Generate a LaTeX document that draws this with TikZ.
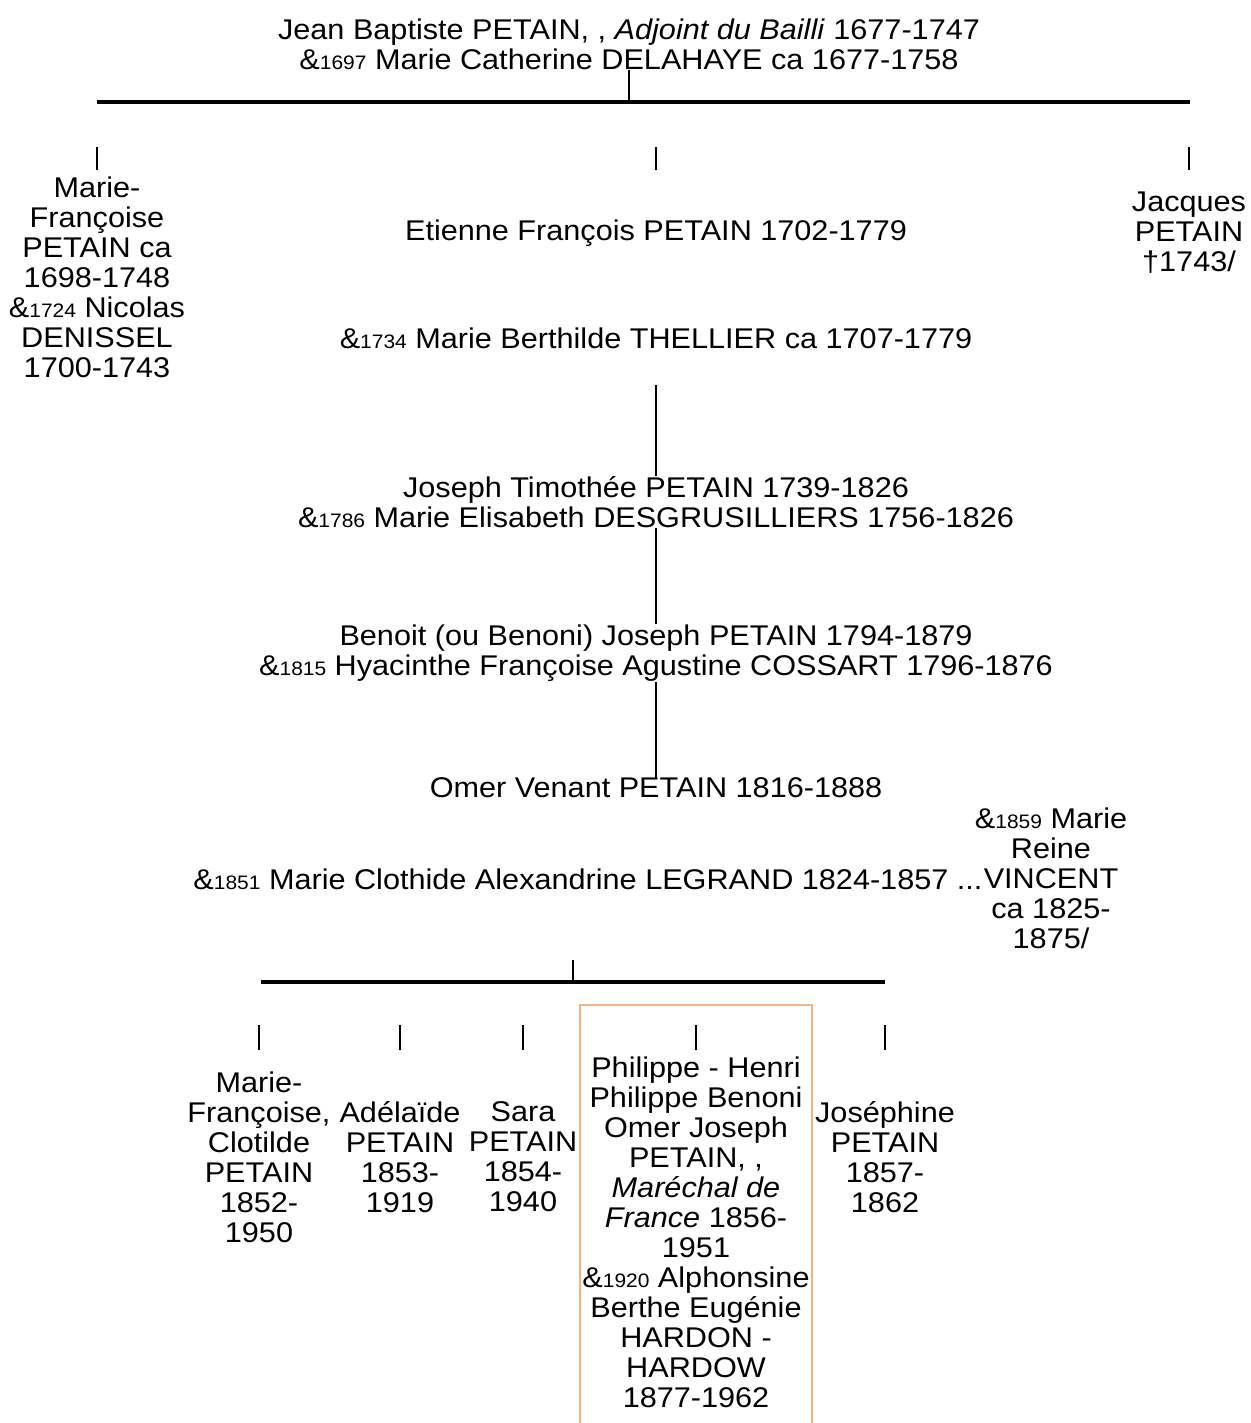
\documentclass[tikz,border=0pt]{standalone}
\usepackage{fontspec}
\setmainfont[FakeStretch=1.075]{Liberation Sans}
\newcommand{\yr}[1]{{\fontsize{19.5}{19.5}\selectfont #1}}
\definecolor{hlorange}{RGB}{248,178,128}

\begin{document}
\begin{tikzpicture}
  [x=1pt,y=-1pt,
   person/.style={align=center,inner sep=0pt,font=\fontsize{28.5}{30}\selectfont},
   bar/.style={line width=4pt},
   tick/.style={line width=2pt},
   link/.style={line width=1.5pt},
   framed/.style={draw=hlorange,line width=2pt}]
  \useasboundingbox (0,0) rectangle (1250,1423);

  \node (jb) at (629,44) [person] {Jean Baptiste PETAIN, , \textit{Adjoint du Bailli} 1677-1747\\\&\yr{1697} Marie Catherine DELAHAYE ca 1677-1758};
  \coordinate (b1l) at (97,102);
  \coordinate (b1r) at (1190,102);

  \node (mf) at (97,277) [person] {Marie-\\Françoise\\PETAIN ca\\1698-1748\\\&\yr{1724} Nicolas\\DENISSEL\\1700-1743};
  \node (ef) at (656,233) [person] {Etienne François PETAIN 1702-1779};
  \node (jq) at (1189,233) [person] {Jacques\\PETAIN\\†1743/};
  \node (efm) at (656,338) [person] {\&\yr{1734} Marie Berthilde THELLIER ca 1707-1779};

  \node (jt) at (656,502) [person] {Joseph Timothée PETAIN 1739-1826\\\&\yr{1786} Marie Elisabeth DESGRUSILLIERS 1756-1826};
  \node (bj) at (656,653) [person] {Benoit (ou Benoni) Joseph PETAIN 1794-1879\\\&\yr{1815} Hyacinthe Françoise Agustine COSSART 1796-1876};
  \node (ov) at (656,788) [person] {Omer Venant PETAIN 1816-1888};
  \node (ovm) at (588,879) [person] {\&\yr{1851} Marie Clothide Alexandrine LEGRAND 1824-1857 ...};
  \node (ovm2) at (1051,878) [person] {\&\yr{1859} Marie\\Reine\\VINCENT\\ca 1825-\\1875/};
  \coordinate (b2t) at (573,960);
  \coordinate (b2l) at (261,982);
  \coordinate (b2r) at (885,982);

  \node (c1) at (259,1157) [person] {Marie-\\Françoise,\\Clotilde\\PETAIN\\1852-\\1950};
  \node (c2) at (400,1157) [person] {Adélaïde\\PETAIN\\1853-\\1919};
  \node (c3) at (523,1157) [person] {Sara\\PETAIN\\1854-\\1940};
  \node (c4) at (696,1232) [person] {Philippe - Henri\\Philippe Benoni\\Omer Joseph\\PETAIN, ,\\\textit{Maréchal de}\\\textit{France} 1856-\\1951\\\&\yr{1920} Alphonsine\\Berthe Eugénie\\HARDON -\\HARDOW\\1877-1962};
  \node (c5) at (885,1157) [person] {Joséphine\\PETAIN\\1857-\\1862};
  \draw [framed] (580,1005) rectangle (812,1440);

  \draw [bar] (b1l) -- (b1r);
  \draw [tick] (jb.south) -- (jb |- b1l);
  \foreach \n in {mf,ef,jq}
    \draw [tick] (\n |- 0,147) -- (\n |- 0,170);
  \draw [link] (efm |- 0,385) -- (jt.north);
  \draw [link] (jt.south) -- (bj.north);
  \draw [link] (bj.south) -- (ov.north);
  \draw [bar] (b2l) -- (b2r);
  \draw [tick] (b2t) -- (b2t |- b2l);
  \foreach \n in {c1,c2,c3,c4,c5}
    \draw [tick] (\n |- 0,1025) -- (\n |- 0,1050);
\end{tikzpicture}
\end{document}
